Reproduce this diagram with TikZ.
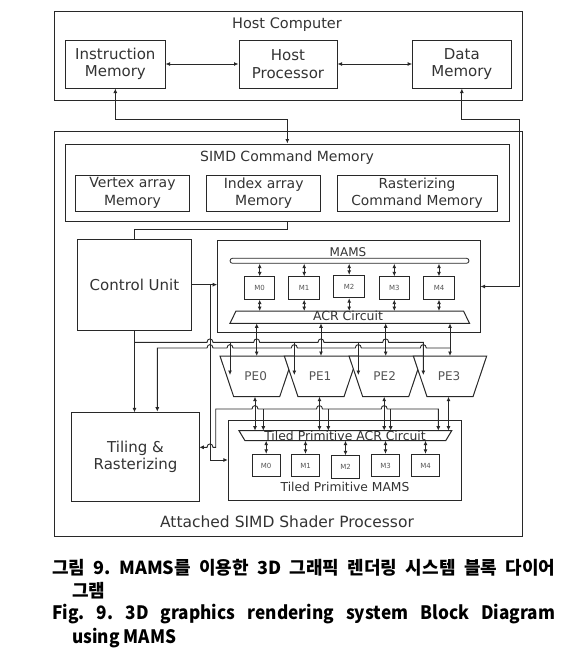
\documentclass[tikz,border=0pt]{standalone}
\usepackage{fontspec}
\usepackage{graphicx}
\setmainfont{DejaVu Sans}
\newfontfamily\cjk{Noto Sans CJK KR}
\usetikzlibrary{arrows.meta}
\definecolor{ln}{RGB}{40,40,40}
\definecolor{tx}{RGB}{51,51,51}
\definecolor{tl}{RGB}{85,85,85}
\newcommand{\fs}[2]{\fontsize{#1}{#2}\selectfont}
\frenchspacing
\begin{document}
\begin{tikzpicture}[x=1pt,y=-1pt,
  box/.style={draw=ln,line width=1pt,inner sep=0pt,text=tx,align=center},
  lbl/.style={inner sep=0pt,text=tx,align=center},
  arr/.style={draw=ln,line width=0.9pt,-{Latex[length=4.5pt,width=4pt]}},
  rarr/.style={draw=ln,line width=0.9pt,{Latex[length=4.5pt,width=4pt]}-},
  dbl/.style={draw=ln,line width=0.9pt,{Latex[length=4.5pt,width=4pt]}-{Latex[length=4.5pt,width=4pt]}},
  wire/.style={draw=ln,line width=0.9pt},
  shp/.style={draw=ln,line width=1pt},
  captxt/.style={anchor=base west,inner sep=0pt,font=\cjk\bfseries\frenchspacing\fs{18}{20},text=black},
  hopat/.style 2 args={insert path={-- ({#1-3},#2) .. controls ({#1-3},{#2-4.5}) and ({#1+3},{#2-4.5}) .. ({#1+3},#2)}},
]
\useasboundingbox (0,0) rectangle (587,667);

% Host computer
\node[box,minimum width=467.8pt,minimum height=88.3pt] (host) at (288.6,55.85) {};
\node[lbl,font=\fs{14.5}{17}] (hostt) at (287,25) {Host Computer};
\node[box,minimum width=99.3pt,minimum height=48pt,font=\fs{15}{17.7}] (im) at (115.35,64) {Instruction\\Memory};
\node[box,minimum width=98pt,minimum height=48pt,font=\fs{15}{17.7}] (hp) at (288,64) {Host\\Processor};
\node[box,minimum width=98.3pt,minimum height=48pt,font=\fs{15}{17.7}] (dm) at (461.85,64) {Data\\Memory};

% Attached processor
\node[box,minimum width=467.8pt,minimum height=404.3pt] (att) at (288.6,333.85) {};
\node[lbl,font=\fs{15.5}{18}] (attt) at (287,521.7) {Attached SIMD Shader Processor};

% SIMD command memory
\node[box,minimum width=443.3pt,minimum height=77pt] (simd) at (287.35,182.5) {};
\node[lbl,font=\fs{14}{16}] (simdt) at (287,158) {SIMD Command Memory};
\node[box,minimum width=113.6pt,minimum height=36pt,font=\fs{14}{17.5}] (va) at (132.5,193) {Vertex array\\Memory};
\node[box,minimum width=114pt,minimum height=36pt,font=\fs{14}{17.5}] (ia) at (263.7,193) {Index array\\Memory};
\node[box,minimum width=160pt,minimum height=36pt,font=\fs{13.8}{17.5}] (rc) at (417,193) {Rasterizing\\Command Memory};

% Control unit
\node[box,minimum width=114.4pt,minimum height=90.7pt,font=\fs{15}{18}] (cu) at (134.5,284.65) {Control Unit};

% MAMS
\node[box,minimum width=262.3pt,minimum height=91.6pt] (mams) at (348.85,286.5) {};
\node[lbl,font=\fs{12}{14}] (mamst) at (348,251.7) {MAMS};
\node[draw=ln,line width=0.8pt,rounded corners=2.5pt,minimum width=239pt,minimum height=5pt,inner sep=0pt] (bar) at (349.5,260.8) {};
\coordinate (acrtop) at (0,311);
\foreach \i/\x/\dy in {0/259.7/0,1/304.2/0,2/349.2/-1.5,3/394.3/0,4/439/0}{
  \node[box,minimum width=30.5pt,minimum height=22.3pt,font=\fs{7}{8},text=tl] (m\i) at (\x,{288+\dy}) {M\i};
  \draw[dbl] (m\i.north |- bar.south) -- (m\i.north);
  \draw[dbl] (m\i.south) -- (m\i.south |- acrtop);
}
\draw[shp] (236,311) -- (463.5,311) -- (469.5,323.3) -- (230,323.3) -- cycle;
\node[lbl,font=\fs{12.5}{14}] (acr) at (348,316) {ACR Circuit};

% PEs
\foreach \i/\c in {0/256.7,1/321,2/385.7,3/450}{
  \draw[shp,fill=white] ({\c-36.7},356) -- ({\c+36.7},356) -- ({\c+23},396.7) -- ({\c-23},396.7) -- cycle;
  \node[lbl,font=\fs{12}{14},text=tl] (pe\i) at ({\c-1},375.7) {PE\i};
  \draw[dbl] (\c,323.3) -- (\c,356);
}
\foreach \c in {255,319.5,384.2,448.5}{
  \draw[dbl] (\c,396.7) -- (\c,430.7);
}

% Tiling & rasterizing
\node[box,minimum width=127.6pt,minimum height=88.3pt,font=\fs{15}{16.8}] (tile) at (135.5,457) {Tiling \&\\Rasterizing};

% Tiled primitive MAMS
\node[box,minimum width=233.4pt,minimum height=80pt] (tmams) at (345,460) {};
\node[lbl,font=\fs{12.3}{14}] (tmamst) at (345,487.3) {Tiled Primitive MAMS};
\draw[shp] (239,430.7) -- (451.7,430.7) -- (445.7,440.7) -- (245,440.7) -- cycle;
\node[lbl,font=\fs{12.4}{14}] (tacr) at (345,435.7) {Tiled Primitive ACR Circuit};
\coordinate (tacrbot) at (0,440.7);
\foreach \i/\x/\dy in {0/266.2/0,1/305.5/0,2/345.5/1.5,3/385.5/0,4/425.5/0}{
  \node[box,minimum width=27.7pt,minimum height=22.3pt,font=\fs{7}{8},text=tl] (tm\i) at (\x,{465.5+\dy}) {M\i};
  \draw[dbl] (tm\i.north |- tacrbot) -- (tm\i.north);
}

% Host connections
\draw[dbl] (im.east) -- (hp.west);
\draw[dbl] (hp.east) -- (dm.west);
\coordinate (hy) at (0,119.3);
\draw[dbl] (im.south) -- (im.south |- hy) -| (simd.north);
\coordinate (dr) at (519.5,119.3);
\draw[dbl] (dm.south) |- (dr) |- (mams.east);

% Control connections
\draw[wire] (simd.south) -- ++(0,8) -| (cu.north);
\draw[arr] (cu.east) -- (cu.east -| mams.west);
\coordinate (j1) at (210,284.65);
\draw[arr] (j1) |- (tmams.west);
\draw[arr] (cu.south) -- (cu.south |- tile.north);

% upper bus
\draw[arr] (134.5,342.3) [hopat={210}{342.3}] [hopat={256.7}{342.3}] [hopat={321}{342.3}] [hopat={385.7}{342.3}] -- (423.3,342.3) -- (423.3,375);
\foreach \x in {230,294.3,358.3}{
  \draw[arr] (\x,342.3) -- (\x,375);
}
% lower bus
\draw[rarr] (157.3,411.7) -- (157.3,348) [hopat={210}{348}] [hopat={230}{348}] [hopat={294.3}{348}] [hopat={358.3}{348}] [hopat={423.3}{348}] -- (450,348);

% bus to tiled ACR and tiling
\draw[dbl] (199.3,447.3) [hopat={210}{447.3}] -- (215.7,447.3) -- (215.7,409) [hopat={255}{409}] [hopat={319.5}{409}] [hopat={384.2}{409}] -- (438.3,409) -- (438.3,430.7);
\foreach \x in {263.3,328.3,390.7}{
  \draw[arr] (\x,409) -- (\x,430.7);
}

% Caption
\node[captxt] (cap1) at (52,574) {\makebox[503pt][s]{그림 9. MAMS를 이용한 3D 그래픽 렌더링 시스템 블록 다이어}};
\node[captxt] (cap2) at (72,597) {그램};
\node[captxt,font=\cjk\bfseries\frenchspacing\fs{18.5}{20}] (cap3) at (52,619.5) {\scalebox{0.93}[1]{\makebox[540.9pt][s]{Fig. 9. 3D graphics rendering system Block Diagram}}};
\node[captxt,font=\cjk\bfseries\frenchspacing\fs{18.5}{20}] (cap4) at (72,643) {\scalebox{0.93}[1]{using MAMS}};
\end{tikzpicture}
\end{document}
